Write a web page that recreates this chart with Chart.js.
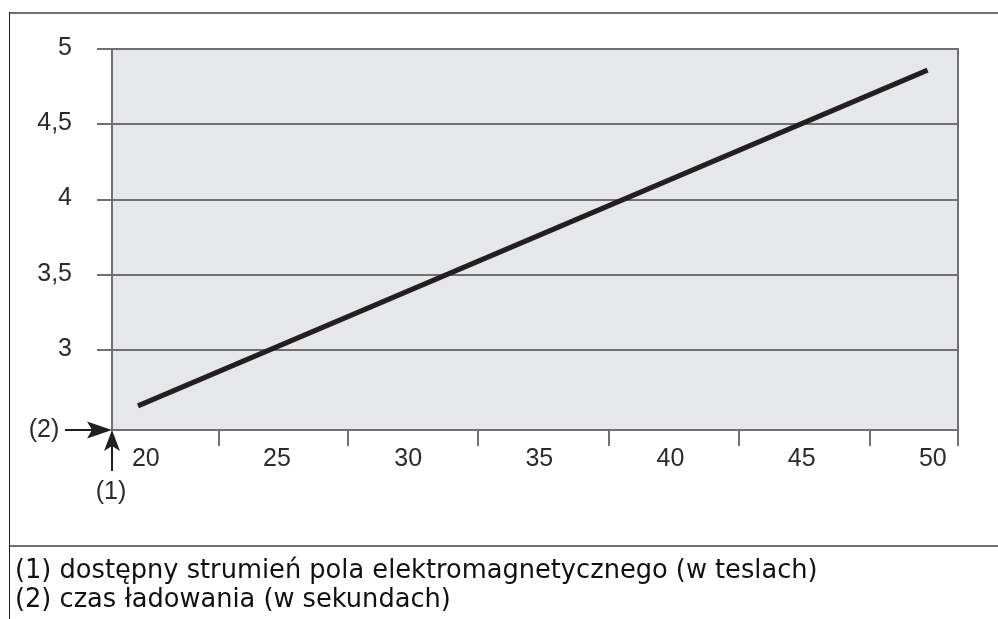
<!DOCTYPE html>
<html>
<head>
<meta charset="utf-8">
<script src="https://cdn.jsdelivr.net/npm/chart.js@4"></script>
<style>
  html, body { margin: 0; padding: 0; background: #fff; }
  body { width: 998px; height: 619px; position: relative; overflow: hidden; }
  #c { position: absolute; left: 0; top: 0; }
  .line { position: absolute; }
  .note { position: absolute; left: 15px; font-family: "DejaVu Sans", sans-serif; font-size: 21px; color: #111; white-space: nowrap; line-height: 1; }
</style>
</head>
<body>
<canvas id="c" width="998" height="619"></canvas>
<div class="line" style="left:10px;top:12px;width:988px;height:2px;background:#707070;"></div>
<div class="line" style="left:9px;top:12px;width:1px;height:607px;background:#231f20;"></div>
<div class="line" style="left:10px;top:545px;width:988px;height:2px;background:#707070;"></div>
<div class="note" id="n1" style="top:557px;">(1) dostępny strumień pola elektromagnetycznego (w teslach)</div>
<div class="note" id="n2" style="top:586px;">(2) czas ładowania (w sekundach)</div>
<script>
// ---- data ----
const xLabels = [20, 25, 30, 35, 40, 45, 50];
const xTickMarks = [22.77, 27.72, 32.68, 37.67, 42.62, 47.59];
const yTicks = [3, 3.5, 4, 4.5, 5];
const yTickLabels = ['3', '3,5', '4', '4,5', '5'];
const chargeTime = [19.7, 49.8];      // seconds
const fieldFlux = [2.63, 4.86];       // tesla
const annotationY = '(1)';
const annotationX = '(2)';

const X_MIN = 18.71, X_MAX = 50.96, Y_MIN = 2.47, Y_MAX = 5.0;
const GRID = '#707070';
const TEXT = '#2b2b2b';
const FONT = '"Liberation Sans", Arial, sans-serif';

// fit footnote width to reference
(function fitNotes(){
  const n1 = document.getElementById('n1');
  const w = n1.getBoundingClientRect().width;
  const target = 803;
  const fs = 21 * target / w;
  n1.style.fontSize = fs + 'px';
  document.getElementById('n2').style.fontSize = fs + 'px';
})();

const xAllTicks = xLabels.concat(xTickMarks, [X_MAX]).sort((a, b) => a - b);

const framePlugin = {
  id: 'frame',
  beforeDraw(chart) {
    const a = chart.chartArea, ctx = chart.ctx;
    ctx.save();
    ctx.fillStyle = '#e6e7e8';
    ctx.fillRect(a.left, a.top, a.right - a.left, a.bottom - a.top);
    ctx.restore();
  },
  afterDraw(chart) {
    const a = chart.chartArea, ctx = chart.ctx;
    const xs = chart.scales.x, ys = chart.scales.y;
    ctx.save();
    ctx.strokeStyle = GRID;
    ctx.lineWidth = 2;
    ctx.strokeRect(a.left, a.top, a.right - a.left, a.bottom - a.top);
    // arrows at origin
    const ox = xs.getPixelForValue(X_MIN), oy = ys.getPixelForValue(Y_MIN);
    ctx.strokeStyle = '#231f20';
    ctx.fillStyle = '#231f20';
    ctx.lineWidth = 2;
    // right arrow (2)
    ctx.beginPath(); ctx.moveTo(ox - 47, oy); ctx.lineTo(ox - 20, oy); ctx.stroke();
    ctx.beginPath(); ctx.moveTo(ox, oy); ctx.lineTo(ox - 25, oy - 8.5); ctx.lineTo(ox - 20, oy); ctx.lineTo(ox - 25, oy + 8.5); ctx.closePath(); ctx.fill();
    // up arrow (1)
    ctx.beginPath(); ctx.moveTo(ox, oy + 41); ctx.lineTo(ox, oy + 16); ctx.stroke();
    ctx.beginPath(); ctx.moveTo(ox, oy); ctx.lineTo(ox - 8, oy + 21); ctx.lineTo(ox, oy + 16); ctx.lineTo(ox + 8, oy + 21); ctx.closePath(); ctx.fill();
    ctx.font = '25px ' + FONT;
    ctx.fillStyle = TEXT;
    ctx.textBaseline = 'middle';
    ctx.textAlign = 'center';
    ctx.fillText(annotationX, ox - 68, oy);
    ctx.fillText(annotationY, ox - 1, oy + 62);
    ctx.restore();
  }
};

new Chart(document.getElementById('c'), {
  type: 'line',
  data: {
    datasets: [{
      data: chargeTime.map((t, i) => ({ x: t, y: fieldFlux[i] })),
      borderColor: '#231f20',
      borderWidth: 5,
      borderCapStyle: 'butt',
      pointRadius: 0,
      fill: false,
      tension: 0
    }]
  },
  options: {
    responsive: false,
    devicePixelRatio: 1,
    animation: false,
    layout: { padding: { left: 12, top: 49, right: 40, bottom: 129 } },
    plugins: { legend: { display: false }, tooltip: { enabled: false } },
    scales: {
      x: {
        type: 'linear',
        min: X_MIN, max: X_MAX,
        afterBuildTicks(s) { s.ticks = xAllTicks.map(v => ({ value: v })); },
        afterFit(s) { s.height = 60; },
        grid: {
          drawOnChartArea: false,
          drawTicks: true,
          tickLength: 16,
          lineWidth: 2,
          color: (ctx) => (ctx.tick && xLabels.includes(ctx.tick.value)) ? 'rgba(0,0,0,0)' : GRID
        },
        border: { display: true, color: GRID, width: 2 },
        ticks: {
          autoSkip: false,
          maxRotation: 0,
          padding: -2,
          color: TEXT,
          font: { family: FONT, size: 25 },
          callback: (v) => xLabels.includes(v) ? String(v) : ''
        }
      },
      y: {
        type: 'linear',
        min: Y_MIN, max: Y_MAX,
        afterBuildTicks(s) { s.ticks = yTicks.map(v => ({ value: v })); },
        afterFit(s) { s.width = 100; },
        grid: {
          drawOnChartArea: true,
          drawTicks: true,
          tickLength: 15,
          lineWidth: 2,
          color: GRID
        },
        border: { display: true, color: GRID, width: 2 },
        ticks: {
          padding: 25,
          labelOffset: -1,
          color: TEXT,
          font: { family: FONT, size: 25 },
          callback: (v) => { const i = yTicks.indexOf(v); return i >= 0 ? yTickLabels[i] : ''; }
        }
      }
    }
  },
  plugins: [framePlugin]
});
</script>
</body>
</html>
